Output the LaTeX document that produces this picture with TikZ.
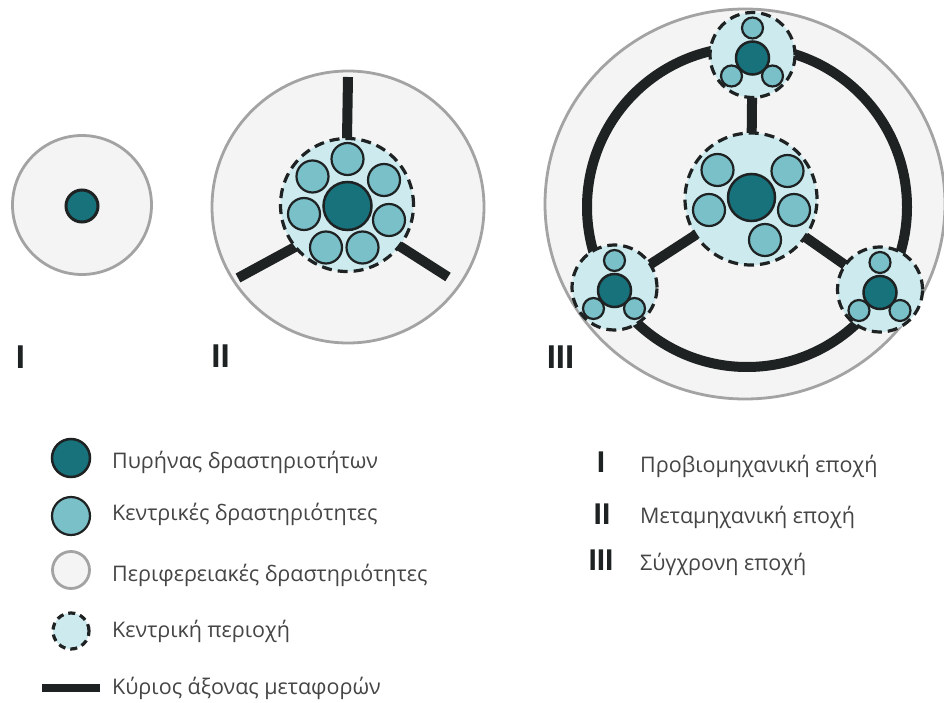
\documentclass[tikz,border=0pt]{standalone}
\usepackage{fontspec}
\setmainfont{Open Sans}
\newfontfamily\numfont{Liberation Sans}
\usetikzlibrary{shapes.geometric}
\definecolor{coreC}{HTML}{17727C}
\definecolor{actC}{HTML}{7AC0C9}
\definecolor{zoneC}{HTML}{CDEBEF}
\definecolor{periC}{HTML}{F4F4F4}
\definecolor{periL}{HTML}{A3A3A3}
\definecolor{ink}{HTML}{1E2222}
\definecolor{txt}{HTML}{454545}
\pgfdeclarelayer{back}
\pgfdeclarelayer{axes}
\pgfsetlayers{back,axes,main}
\tikzset{
  base/.style={circle, inner sep=0pt, outer sep=0pt},
  core/.style={base, draw=ink, line width=2.5pt, fill=coreC, minimum size=#1},
  act/.style={base, draw=ink, line width=2.2pt, fill=actC, minimum size=#1},
  zone/.style={base, draw=ink, line width=3.2pt, fill=zoneC, dash pattern=on 10pt off 6pt, minimum size=#1},
  peri/.style={base, draw=periL, line width=2.8pt, fill=periC, minimum size=#1},
  axis/.style={draw=ink, line width=10pt, line cap=butt},
  era/.style={font=\numfont\bfseries\fontsize{33}{33}\selectfont, text=ink, anchor=base, inner sep=0pt},
  eraleg/.style={font=\numfont\bfseries\fontsize{30}{30}\selectfont, text=ink, anchor=base, inner sep=0pt},
  legtext/.style={font=\fontsize{21.5}{26}\selectfont, text=txt, anchor=base west, inner sep=0pt},
  satzone/.pic={
    \node[zone=85pt] (-zone) at (0,0) {};
    \node[act=21pt] (-t) at (0,-27) {};
    \node[act=21pt] (-l) at (-21,21) {};
    \node[act=21pt] (-r) at (20,21) {};
    \node[core=33pt] (-c) at (0,3) {};
  }
}
\begin{document}
\begin{tikzpicture}[x=1pt,y=-1pt]
\useasboundingbox (0,0) rectangle (944,703);
\begin{pgfonlayer}{back}
  \fill[white] (0,0) rectangle (944,703);
\end{pgfonlayer}

% ---------- I : pre-industrial city ----------
\begin{pgfonlayer}{back}
  \node[peri=139pt] (p1) at (82,205) {};
\end{pgfonlayer}
\node[core=32pt, line width=3pt] (c1) at (82,206) {};
\node[era] (n1) at (20.5,368) {I};

% ---------- II : post-industrial city ----------
\begin{pgfonlayer}{back}
  \node[peri=272pt] (p2) at (348,207) {};
\end{pgfonlayer}
\node[zone=133pt] (z2) at (347,205) {};
\node[act=32pt] (a2a) at (347.5,159) {};
\node[act=32pt] (a2b) at (384,180) {};
\node[act=32pt] (a2c) at (389,220) {};
\node[act=32pt] (a2d) at (362.5,247.5) {};
\node[act=32pt] (a2e) at (326,247.5) {};
\node[act=32pt] (a2f) at (304,214) {};
\node[act=32pt] (a2g) at (312.5,176.5) {};
\node[core=48pt] (c2) at (347.5,206) {};
\coordinate (s2t) at (348,77);
\coordinate (s2l) at (238,278);
\coordinate (s2r) at (448,277);
\begin{pgfonlayer}{axes}
  \draw[axis] (s2t) -- (z2.90);
  \draw[axis] (s2l) -- (z2.219);
  \draw[axis] (s2r) -- (z2.322);
\end{pgfonlayer}
\node[era] (n2) at (220.5,367) {II};

% ---------- III : contemporary city ----------
\begin{pgfonlayer}{back}
  \node[ellipse, inner sep=0pt, outer sep=0pt, draw=periL, line width=2.8pt, fill=periC,
        minimum width=400pt, minimum height=390pt] (p3) at (745,204) {};
\end{pgfonlayer}
\node[zone=132pt] (z3) at (751,199) {};
\node[act=32pt] (a3a) at (717.5,170) {};
\node[act=32pt] (a3b) at (787.5,171) {};
\node[act=32pt] (a3c) at (709,210) {};
\node[act=32pt] (a3d) at (794,210) {};
\node[act=32pt] (a3e) at (765,240) {};
\node[core=47pt] (c3) at (751.5,197.5) {};
\pic (sN) at (752.5,55) {satzone};
\pic (sW) at (614.5,287.5) {satzone};
\pic (sE) at (880,289.5) {satzone};
\begin{pgfonlayer}{axes}
  \node[base, draw=ink, line width=10pt, minimum size=320pt] (ring3) at (747,207) {};
  \draw[axis] (sN-zone) -- (z3);
  \draw[axis] (sW-zone) -- (z3);
  \draw[axis] (sE-zone) -- (z3);
\end{pgfonlayer}
\node[era] (n3) at (560.5,368) {III};

% ---------- legend: symbols ----------
\node[core=38pt] (k1) at (71,458) {};
\node[act=38pt] (k2) at (71,516) {};
\node[peri=37pt] (k3) at (71,570) {};
\node[zone=36pt, dash pattern=on 7pt off 5pt] (k4) at (71,631) {};
\coordinate (k5a) at (42,687.5);
\coordinate (k5b) at (100,687.5);
\draw[axis, line width=8pt] (k5a) -- (k5b);

\node[legtext] (t1) at (112,468) {Πυρήνας δραστηριοτήτων};
\node[legtext] (t2) at (112,520) {Κεντρικές δραστηριότητες};
\node[legtext] (t3) at (112,581) {Περιφερειακές δραστηριότητες};
\node[legtext] (t4) at (112,637) {Κεντρική περιοχή};
\node[legtext] (t5) at (112,694) {Κύριος άξονας μεταφορών};

% ---------- legend: periods ----------
\node[eraleg] (e1) at (601,472) {I};
\node[eraleg] (e2) at (602,524) {II};
\node[eraleg] (e3) at (601,570) {III};
\node[legtext] (u1) at (640,472) {Προβιομηχανική εποχή};
\node[legtext] (u2) at (640,523) {Μεταμηχανική εποχή};
\node[legtext] (u3) at (640,570) {Σύγχρονη εποχή};
\end{tikzpicture}
\end{document}
